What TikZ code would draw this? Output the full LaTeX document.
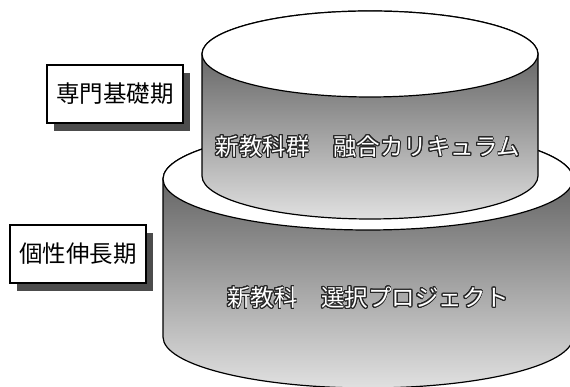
\documentclass[tikz,border=0pt]{standalone}
\usepackage{fontspec}
\setmainfont{Noto Sans CJK JP}
\usepackage[copies]{contour}
\usetikzlibrary{shadows}
\contourlength{0.9pt}
\contournumber{24}
\tikzset{
  cylside/.style={draw=black, line width=1.2pt, top color=black!72, bottom color=black!12, middle color=black!42},
  cyltop/.style={draw=black, line width=1.2pt, fill=white},
  stagebox/.style={draw=black, line width=1.1pt, fill=white, minimum width=136pt, minimum height=58pt,
    inner sep=0pt, font=\fontsize{23.5}{26}\selectfont,
    drop shadow={shadow xshift=7pt, shadow yshift=-8pt, fill=black!70, opacity=1}},
  cyltext/.style={text=white, font=\fontsize{23.5}{26}\selectfont, inner sep=0pt}
}
\begin{document}
\begin{tikzpicture}[x=1pt,y=1pt]
\useasboundingbox (0,0) rectangle (570,387);
% lower cylinder
\coordinate (LT) at (368,208);
\draw[cylside] (163,208) -- (163,50) arc[start angle=180, end angle=360, x radius=205, y radius=51]
  -- (573,208) arc[start angle=0, end angle=180, x radius=205, y radius=51] -- cycle;
\draw[cyltop] (LT) ellipse[x radius=205, y radius=51];
% upper cylinder
\coordinate (UT) at (370,333);
\draw[cylside] (202,333) -- (202,211) arc[start angle=180, end angle=360, x radius=168, y radius=43]
  -- (538,333) arc[start angle=0, end angle=180, x radius=168, y radius=43] -- cycle;
\draw[cyltop] (UT) ellipse[x radius=168, y radius=43];
% cylinder texts
\node[cyltext] (t1) at (368,240) {\contour{black!85}{新教科群　融合カリキュラム}};
\node[cyltext] (t2) at (368,89) {\contour{black!85}{新教科　選択プロジェクト}};
% stage boxes
\node[stagebox] (b1) at (115,293) {専門基礎期};
\node[stagebox] (b2) at (78,133) {個性伸長期};
\end{tikzpicture}
\end{document}
